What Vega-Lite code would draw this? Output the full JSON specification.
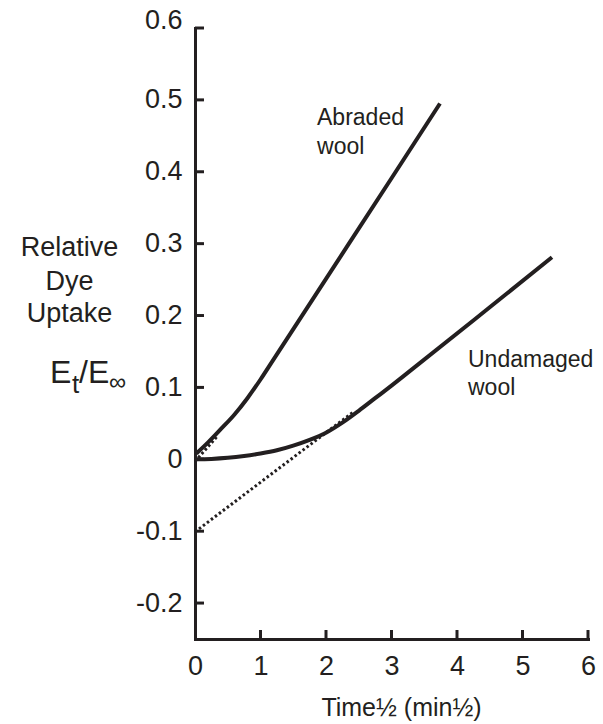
{
  "$schema": "https://vega.github.io/schema/vega-lite/v6.json",
  "autosize": "none",
  "width": 393,
  "height": 611,
  "padding": {"left": 195, "top": 28, "right": 15, "bottom": 85},
  "background": "white",
  "config": {
    "view": {"stroke": null},
    "font": "Liberation Sans",
    "text": {"font": "Liberation Sans", "color": "#231f20"}
  },
  "datasets": {
    "abraded": [
      {"x": 0.02, "y": 0.008},
      {"x": 0.2, "y": 0.0235},
      {"x": 0.4, "y": 0.0425},
      {"x": 0.6, "y": 0.062},
      {"x": 0.8, "y": 0.085},
      {"x": 1.0, "y": 0.111},
      {"x": 1.2, "y": 0.139},
      {"x": 2.0, "y": 0.251},
      {"x": 3.0, "y": 0.391},
      {"x": 3.74, "y": 0.495}
    ],
    "abradedExtrap": [
      {"x": 0.0, "y": -0.003},
      {"x": 0.35, "y": 0.033}
    ],
    "undamaged": [
      {"x": 0.0, "y": 0.0},
      {"x": 0.25, "y": 0.0005},
      {"x": 0.5, "y": 0.002},
      {"x": 0.75, "y": 0.0045},
      {"x": 1.0, "y": 0.008},
      {"x": 1.25, "y": 0.0125},
      {"x": 1.5, "y": 0.019},
      {"x": 1.75, "y": 0.027},
      {"x": 2.0, "y": 0.037},
      {"x": 2.25, "y": 0.051},
      {"x": 2.5, "y": 0.0675},
      {"x": 2.75, "y": 0.085},
      {"x": 3.0, "y": 0.1025},
      {"x": 3.25, "y": 0.1205},
      {"x": 4.5, "y": 0.2115},
      {"x": 5.45, "y": 0.281}
    ],
    "undamagedExtrap": [
      {"x": 0.0, "y": -0.101},
      {"x": 2.42, "y": 0.066}
    ],
    "yTicks": [
      {"x": 0, "y": -0.2}, {"x": 0, "y": -0.1}, {"x": 0, "y": 0}, {"x": 0, "y": 0.1}, {"x": 0, "y": 0.2},
      {"x": 0, "y": 0.3}, {"x": 0, "y": 0.4}, {"x": 0, "y": 0.5}, {"x": 0, "y": 0.6}
    ],
    "xTicks": [
      {"x": 1, "y": -0.25}, {"x": 2, "y": -0.25}, {"x": 3, "y": -0.25},
      {"x": 4, "y": -0.25}, {"x": 5, "y": -0.25}, {"x": 6, "y": -0.25}
    ],
    "sideLabel": [
      {"x": -1.916, "y": 0.2827, "label": "Relative"},
      {"x": -1.916, "y": 0.2355, "label": "Dye"},
      {"x": -1.916, "y": 0.191, "label": "Uptake"}
    ],
    "ratioBig": [
      {"x": -2.214, "y": 0.1062, "label": "E"},
      {"x": -1.771, "y": 0.1062, "label": "/E"}
    ],
    "ratioSub": [
      {"x": -1.878, "y": 0.0922, "label": "t"}
    ],
    "ratioInf": [
      {"x": -1.313, "y": 0.0964, "label": "∞"}
    ],
    "curveLabels": [
      {"x": 1.863, "y": 0.4651, "label": "Abraded"},
      {"x": 1.863, "y": 0.4247, "label": "wool"},
      {"x": 4.168, "y": 0.1284, "label": "Undamaged"},
      {"x": 4.168, "y": 0.0895, "label": "wool"}
    ]
  },
  "encoding": {
    "x": {
      "field": "x",
      "type": "quantitative",
      "scale": {"domain": [0, 6], "nice": false, "zero": false},
      "axis": {
        "values": [0, 1, 2, 3, 4, 5, 6],
        "grid": false,
        "domainColor": "#231f20",
        "domainWidth": 3,
        "domainCap": "square",
        "ticks": false,
        "labelFont": "Liberation Sans",
        "labelFontSize": 27,
        "labelColor": "#231f20",
        "labelPadding": 14,
        "labelFlush": false,
        "labelOverlap": false,
        "title": "Time½ (min½)",
        "titleFont": "Liberation Sans",
        "titleFontSize": 25,
        "titleFontWeight": "normal",
        "titleColor": "#231f20",
        "titleX": 206,
        "titleY": 76,
        "titleBaseline": "alphabetic",
        "titleAlign": "center"
      }
    },
    "y": {
      "field": "y",
      "type": "quantitative",
      "scale": {"domain": [-0.25, 0.6], "nice": false, "zero": false},
      "axis": {
        "values": [-0.2, -0.1, 0, 0.1, 0.2, 0.3, 0.4, 0.5, 0.6],
        "labelExpr": "toString(datum.value)",
        "grid": false,
        "domainColor": "#231f20",
        "domainWidth": 3,
        "domainCap": "square",
        "ticks": false,
        "labelFont": "Liberation Sans",
        "labelFontSize": 27,
        "labelColor": "#231f20",
        "labelPadding": 13,
        "labelFlush": false,
        "labelOverlap": false,
        "labelBaseline": {"condition": {"test": "datum.value == 0.6", "value": "alphabetic"}, "value": "middle"},
        "title": null
      }
    }
  },
  "layer": [
    {
      "data": {"name": "yTicks"},
      "mark": {"type": "rule", "color": "#231f20", "strokeWidth": 3},
      "encoding": {
        "x2": {"datum": 0.137}
      }
    },
    {
      "data": {"name": "xTicks"},
      "mark": {"type": "rule", "color": "#231f20", "strokeWidth": 3},
      "encoding": {
        "y2": {"datum": -0.2375}
      }
    },
    {
      "data": {"name": "undamagedExtrap"},
      "mark": {"type": "line", "color": "#231f20", "strokeWidth": 3, "strokeDash": [2.5, 2.5]}
    },
    {
      "data": {"name": "abradedExtrap"},
      "mark": {"type": "line", "color": "#231f20", "strokeWidth": 3, "strokeDash": [2.5, 2.5]}
    },
    {
      "data": {"name": "abraded"},
      "mark": {"type": "line", "color": "#231f20", "strokeWidth": 4, "interpolate": "monotone"}
    },
    {
      "data": {"name": "undamaged"},
      "mark": {"type": "line", "color": "#231f20", "strokeWidth": 4, "interpolate": "monotone"}
    },
    {
      "data": {"name": "sideLabel"},
      "mark": {"type": "text", "fontSize": 27, "align": "center", "baseline": "alphabetic"},
      "encoding": {"text": {"field": "label"}}
    },
    {
      "data": {"name": "ratioBig"},
      "mark": {"type": "text", "fontSize": 32, "align": "left", "baseline": "alphabetic"},
      "encoding": {"text": {"field": "label"}}
    },
    {
      "data": {"name": "ratioSub"},
      "mark": {"type": "text", "fontSize": 26, "align": "left", "baseline": "alphabetic"},
      "encoding": {"text": {"field": "label"}}
    },
    {
      "data": {"name": "ratioInf"},
      "mark": {"type": "text", "fontSize": 24, "align": "left", "baseline": "alphabetic"},
      "encoding": {"text": {"field": "label"}}
    },
    {
      "data": {"name": "curveLabels"},
      "mark": {"type": "text", "fontSize": 23, "align": "left", "baseline": "alphabetic"},
      "encoding": {"text": {"field": "label"}}
    }
  ]
}
